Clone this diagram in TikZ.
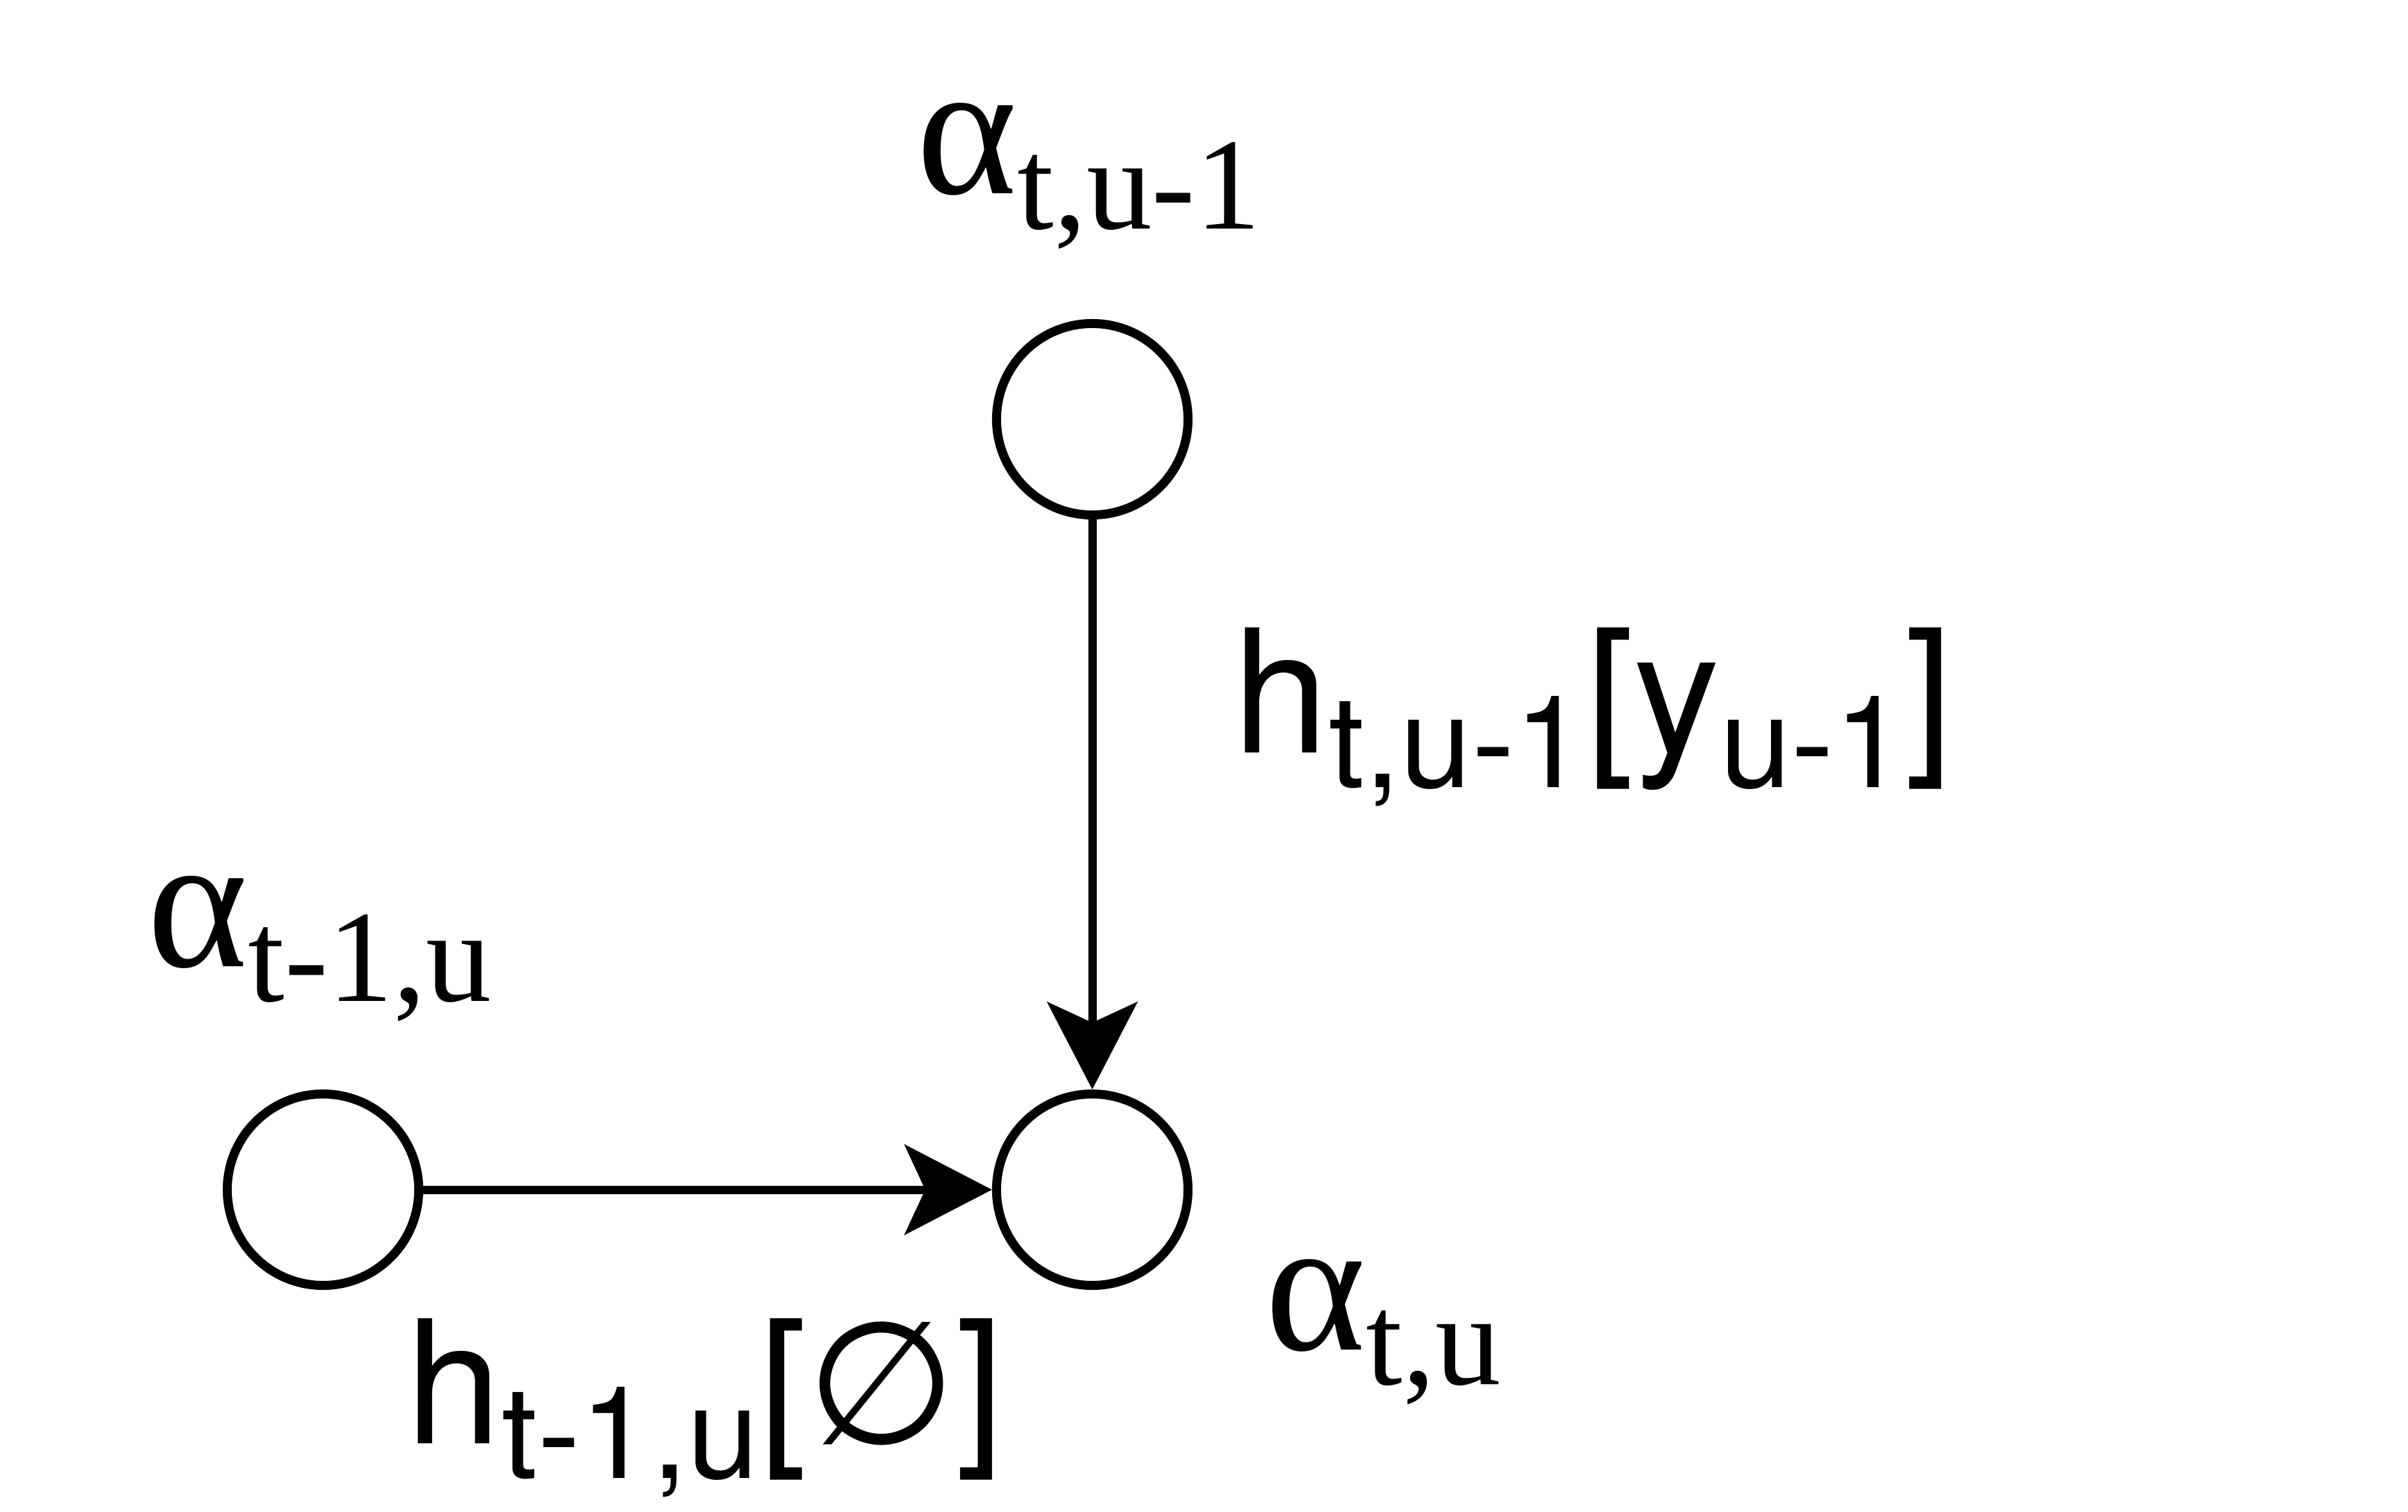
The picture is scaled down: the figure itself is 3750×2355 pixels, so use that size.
\documentclass[tikz,border=0pt]{standalone}
\usepackage{fontspec}
\usepackage{graphicx}
\usetikzlibrary{arrows.meta}
\newfontfamily\timesfont{Liberation Serif}
\newfontfamily\arialfont{TeX Gyre Heros}
\newfontfamily\symfont{DejaVu Sans}
% alpha with a lowered upright index
\newcommand{\alphalab}[1]{{\fontsize{85}{90}\timesfont α}\raisebox{-15.6pt}{\fontsize{58}{60}\timesfont #1}}
% h with index and bracket
\newcommand{\hsub}[1]{\raisebox{-15.6pt}{\fontsize{57}{60}\arialfont #1}}
\newcommand{\hlab}[2]{{\fontsize{76}{80}\arialfont h\hsub{#1}[#2]}}

\begin{document}
\begin{tikzpicture}[x=0.01cm,y=-0.01cm,
    state/.style={circle,draw,line width=0.14cm,minimum size=2.98cm,inner sep=0pt},
    arr/.style={-{Stealth[length=1.36cm,width=1.4cm,inset=0.32cm]},line width=0.13cm},
    lab/.style={anchor=base west,inner sep=0pt}]
  \useasboundingbox (0,0) rectangle (3750,2355);
  % states
  \node[state] (up)    at (1701,653)  {};
  \node[state] (left)  at (503,1853)  {};
  \node[state] (cur)   at (1701,1853) {};
  % alpha labels
  \node[lab] (aup)   at (1427,302)  {\alphalab{t,u-1}};
  \node[lab] (aleft) at (229,1505)  {\alphalab{t-1,u}};
  \node[lab] (acur)  at (1970,2102) {\alphalab{t,u}};
  % transitions
  \draw[arr] (up) -- (cur);
  \draw[arr] (left) -- (cur);
  \node[lab] (hup)   at (1920,1172) {\hlab{t,u-1}{y\hsub{u-1}}};
  \node[lab] (hleft) at (632,2248)  {\hlab{t-1,u}{{\symfont ∅}}};
\end{tikzpicture}
\end{document}
